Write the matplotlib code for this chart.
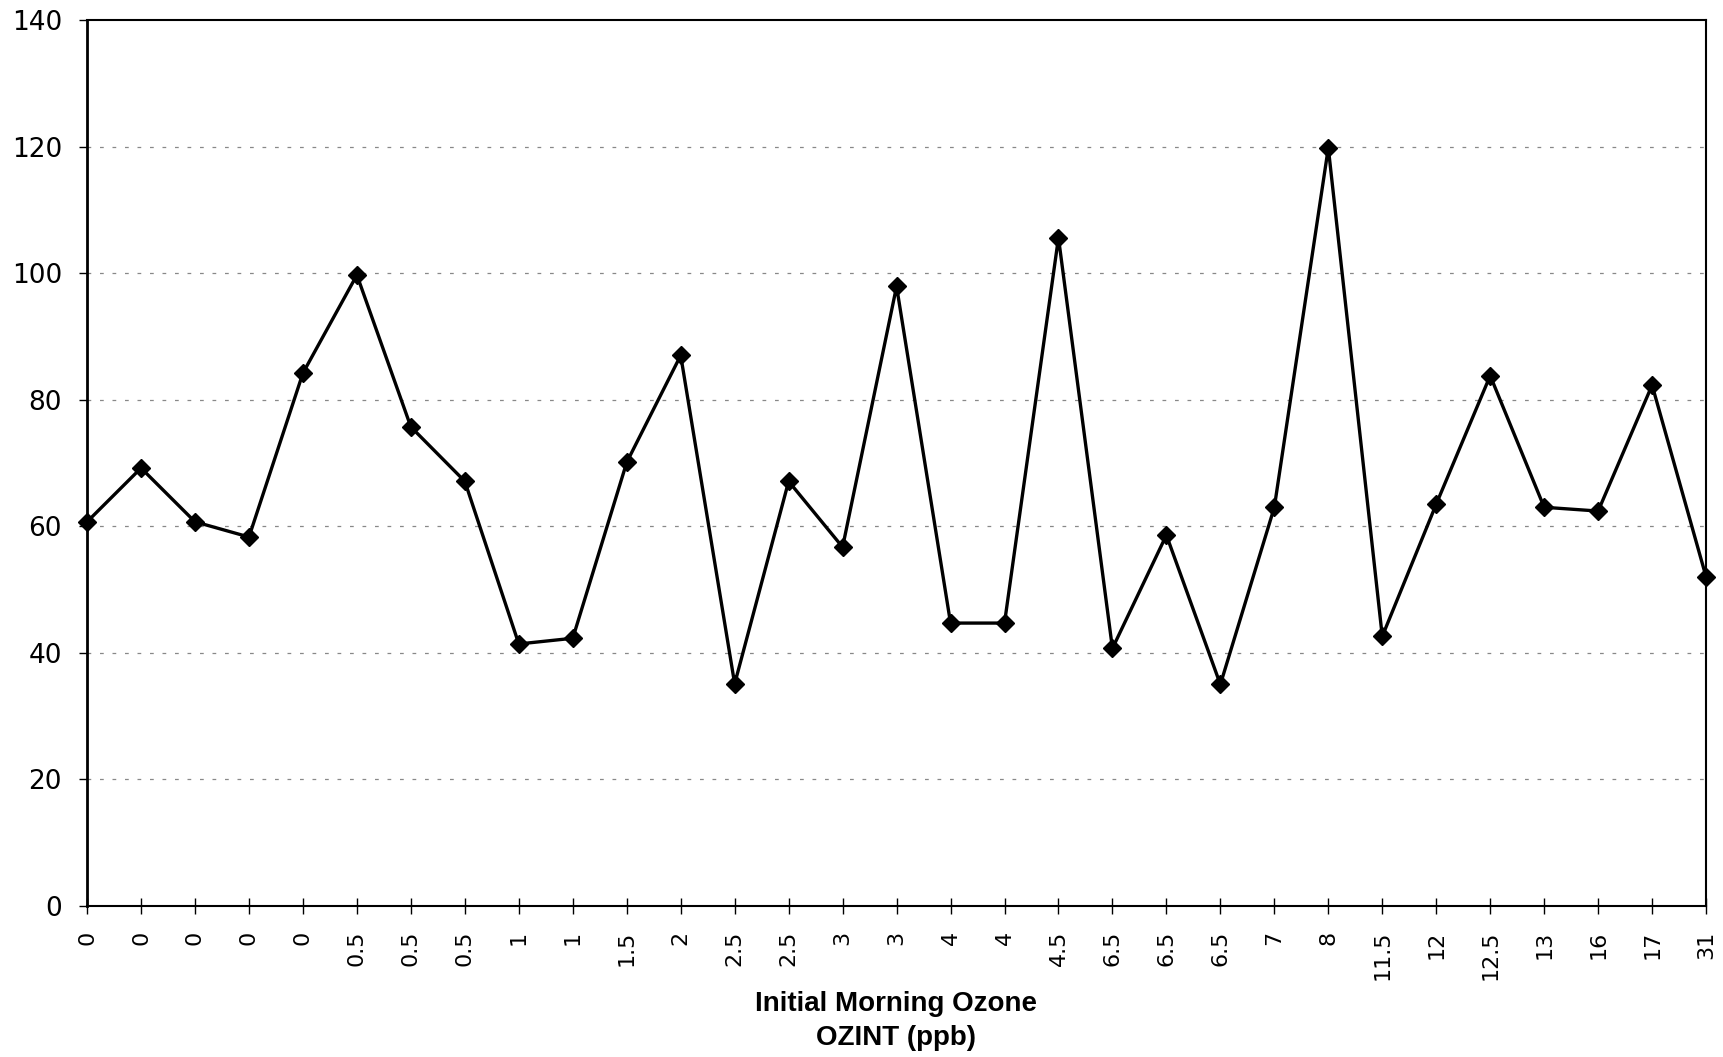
import matplotlib
matplotlib.use("Agg")
import matplotlib.pyplot as plt
from matplotlib import font_manager

# Initial morning ozone categories (ppb) and the plotted response values
ozint_labels = ["0", "0", "0", "0", "0", "0.5", "0.5", "0.5", "1", "1",
                "1.5", "2", "2.5", "2.5", "3", "3", "4", "4", "4.5", "6.5",
                "6.5", "6.5", "7", "8", "11.5", "12", "12.5", "13", "16", "17", "31"]
values = [60.7, 69.2, 60.7, 58.3, 84.2, 99.7, 75.7, 67.1, 41.4, 42.3,
          70.1, 87.0, 35.1, 67.1, 56.7, 97.9, 44.7, 44.7, 105.6, 40.7,
          58.6, 35.0, 63.0, 119.8, 42.6, 63.5, 83.8, 63.0, 62.4, 82.3, 52.0]
y_ticks = [0, 20, 40, 60, 80, 100, 120, 140]

wide = ["DejaVu Sans"]
names = {f.name for f in font_manager.fontManager.ttflist}
narrow = (["Liberation Sans Narrow", "Liberation Sans", "DejaVu Sans"]
          if "Liberation Sans Narrow" in names else ["Liberation Sans", "DejaVu Sans"])

fig = plt.figure(figsize=(17.24, 10.57), dpi=100)
ax = fig.add_axes([0.0505, 0.1429, 0.9391, 0.8382])

x = list(range(len(values)))
ax.plot(x, values, color="black", linewidth=2.4, marker="D", markersize=9.5,
        markerfacecolor="black", markeredgecolor="black", zorder=3, clip_on=False)

ax.set_xlim(0, len(values) - 1)
ax.set_ylim(0, 140)
ax.set_yticks(y_ticks)
ax.set_yticklabels([str(v) for v in y_ticks], fontsize=19, family=wide)
ax.set_xticks(x)
ax.set_xticklabels(ozint_labels, rotation=90, fontsize=16, family=wide, va="top")

ax.tick_params(axis="y", direction="out", length=6, width=1.0, pad=12, colors="black")
ax.tick_params(axis="x", direction="inout", length=12, width=1.0, pad=12, colors="black")

for yv in y_ticks[1:-1]:
    ax.axhline(yv, color="#888888", linestyle=(0, (3, 7)), linewidth=0.9, zorder=1)

for side in ["left", "right", "top", "bottom"]:
    ax.spines[side].set_color("black")
    ax.spines[side].set_linewidth(1.5)
ax.spines["left"].set_linewidth(2.0)

fig.text(0.5197, 1 - 1004 / 1057, "Initial Morning Ozone", ha="center", va="center",
         fontsize=20, fontweight="bold", family=narrow)
fig.text(0.5197, 1 - 1038 / 1057, "OZINT (ppb)", ha="center", va="center",
         fontsize=20, fontweight="bold", family=narrow)

fig.savefig("out.png", dpi=100, facecolor="white")
